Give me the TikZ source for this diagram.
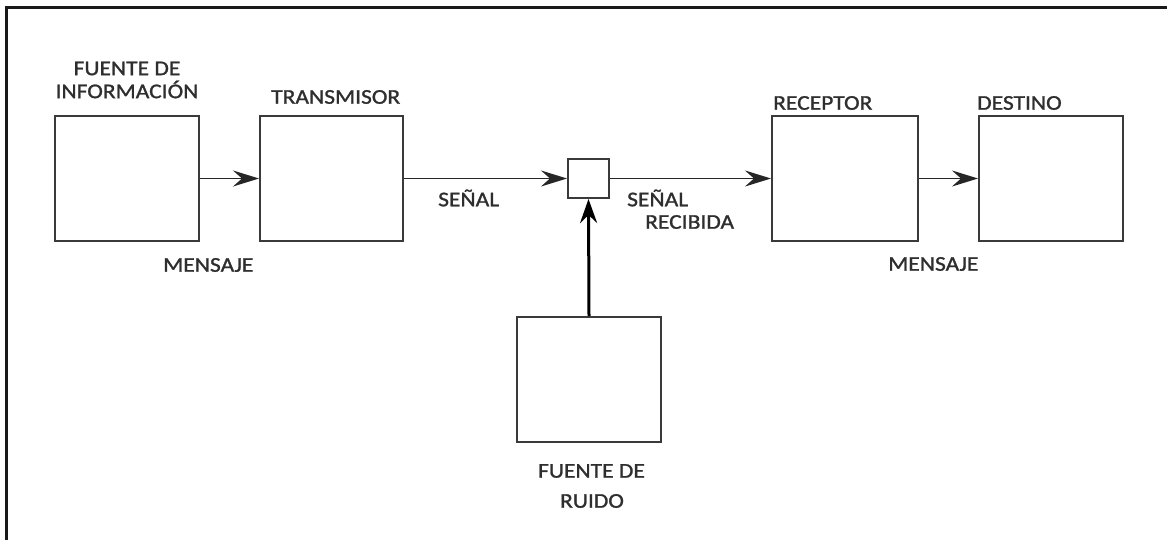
\documentclass[tikz,border=0pt]{standalone}
\usepackage{fontspec}
\setmainfont{Carlito}[FakeStretch=1.12,FakeBold=1.2]
\usetikzlibrary{arrows.meta}
\definecolor{txt}{HTML}{2E2E2E}
\definecolor{ln}{HTML}{3A3A3A}
\begin{document}
\begin{tikzpicture}[x=1pt,y=-1pt,
  blk/.style={draw=ln,line width=2pt,rectangle,inner sep=0pt,minimum width=#1},
  lbl/.style={text=txt,font=\fontsize{21}{25}\selectfont,inner sep=0pt,align=center},
  conn/.style={draw=black!85,line width=1.6pt,-{Stealth[length=26pt,width=16pt,inset=9pt]}},
  thick conn/.style={draw=black,line width=3pt,-{Stealth[length=24pt,width=17pt,inset=8pt]}}]
\useasboundingbox (0,0) rectangle (1167,540);
\fill[white] (0,0) rectangle (1167,540);
% frame
\draw[line width=3pt,black!90] (6,540) -- (6,8) -- (1167,8);
% boxes
\node[blk=144pt,minimum height=124pt] (fuente) at (127,178.5) {};
\node[blk=143pt,minimum height=124pt] (trans) at (331.5,178.5) {};
\node[blk=41pt,minimum height=39pt] (canal) at (588.5,178.5) {};
\node[blk=146pt,minimum height=125pt] (recep) at (845,178.5) {};
\node[blk=144pt,minimum height=125pt] (dest) at (1051,178.5) {};
\node[blk=144pt,minimum height=125pt] (ruido) at (589,379.5) {};
% connectors
\draw[conn] (fuente.east) -- (trans.west);
\draw[conn] (trans.east) -- (canal.west);
\draw[conn] (canal.east) -- (recep.west);
\draw[conn] (recep.east) -- (dest.west);
\draw[thick conn] (ruido.north) -- (canal.south);
% labels
\node[lbl] (l1) at (127,80) {FUENTE DE\\[-2pt]INFORMACIÓN};
\node[lbl,anchor=west] (l2) at (271,97) {TRANSMISOR};
\node[lbl,anchor=west] (l3) at (163,265) {MENSAJE};
\node[lbl,anchor=west] (l4) at (438,198) {SEÑAL};
\node[lbl,anchor=west] (l5) at (627,198) {SEÑAL};
\node[lbl,anchor=west] (l6) at (645,222) {RECIBIDA};
\node[lbl,anchor=west] (l7) at (773,103) {RECEPTOR};
\node[lbl,anchor=west] (l8) at (977,103) {DESTINO};
\node[lbl,anchor=west] (l9) at (888,264) {MENSAJE};
\node[lbl] (l10) at (591.5,471) {FUENTE DE};
\node[lbl] (l11) at (592,501) {RUIDO};
\end{tikzpicture}
\end{document}
